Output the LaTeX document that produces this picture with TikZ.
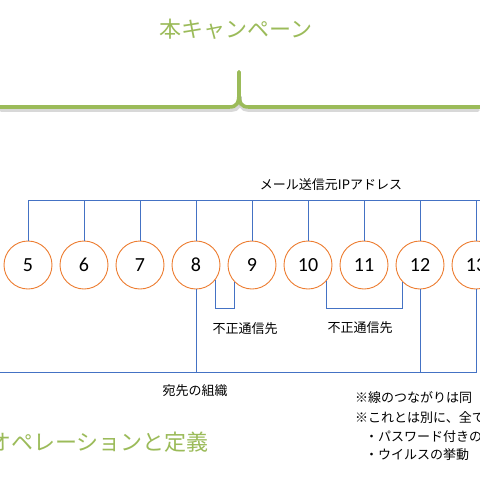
\documentclass[tikz,border=0pt]{standalone}
\usepackage{fontspec}
\newfontfamily\jpfont{Noto Sans CJK JP}
\newfontfamily\numfont{Carlito}
\definecolor{campgreen}{RGB}{155,187,89}
\definecolor{ringorange}{RGB}{237,125,49}
\definecolor{linkblue}{RGB}{68,114,196}
\usepackage{tikz}
\usetikzlibrary{positioning,calc}

\begin{document}
\begin{tikzpicture}[x=1pt,y=-1pt,
    font=\jpfont\fontsize{13}{15}\selectfont,
    heading/.style={font=\jpfont\fontsize{22}{24}\selectfont, text=campgreen, inner sep=0pt},
    num/.style={circle, draw=ringorange, line width=0.9pt, minimum size=48pt, inner sep=0pt,
                font=\numfont\fontsize{20}{20}\selectfont},
    bus/.style={draw=linkblue, line width=0.9pt},
    brace/.style={draw=campgreen, line width=3.6pt, line cap=round, line join=round},
    note/.style={anchor=west, inner sep=0pt}]
  \useasboundingbox (0,0) rectangle (480,480);
  \clip (0,0) rectangle (480,480);
  \fill[white] (0,0) rectangle (480,480);

  \node[heading] (campaign) at (236,29) {本キャンペーン};
  \draw[brace, draw=gray!60, opacity=0.5] (1,110) -- (232,110) .. controls (238,110) and (240,106) .. (240,97);
  \draw[brace, draw=gray!60, opacity=0.5] (478,110) -- (248,110) .. controls (242,110) and (240,106) .. (240,97);
  \draw[brace] (0,107) -- (229,107) .. controls (237,107) and (239,103) .. (239,93) -- (239,72);
  \draw[brace] (480,107) -- (249,107) .. controls (241,107) and (239,103) .. (239,93) -- (239,72);

  \foreach \n/\x in {5/28,6/84,7/140,8/196,9/252,10/308,11/364,12/420,13/476}
    \node[num] (c\n) at (\x,265) {\n};

  \coordinate (topbus) at (480,200);
  \coordinate (lowbus) at (0,372);
  \coordinate (loopbase) at (0,308);
  \draw[bus] (c5.north |- topbus) -- (topbus);
  \foreach \n in {5,...,13}
    \draw[bus] (c\n.north) -- (c\n.north |- topbus);
  \node (ipaddr) at (331,185) {メール送信元IPアドレス};

  \draw[bus] (lowbus) -- (c13.south |- lowbus) -- (c13.south);
  \draw[bus] (c8.south) -- (c8.south |- lowbus);
  \draw[bus] (c12.south) -- (c12.south |- lowbus);
  \node (dest) at (195,391) {宛先の組織};

  \draw[bus] (c8.-38) -- (c8.-38 |- loopbase) -| (c9.-135);
  \draw[bus] (c10.-41) -- (c10.-41 |- loopbase) -| (c12.-135);
  \node (fraudA) at (245,329) {不正通信先};
  \node (fraudB) at (360,328) {不正通信先};

  \node[note] (noteA) at (355,398) {※線のつながりは同};
  \node[note] (noteB) at (355,418) {※これとは別に、全て};
  \node[note] (noteC) at (365,437) {・パスワード付きの};
  \node[note] (noteD) at (365,455) {・ウイルスの挙動};

  \node[heading, anchor=east] (operation) at (209,442) {オペレーションと定義};
\end{tikzpicture}
\end{document}
